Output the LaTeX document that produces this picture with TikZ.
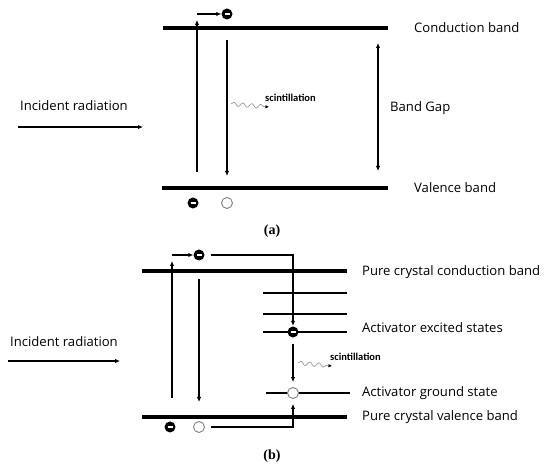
\documentclass[tikz,border=0pt]{standalone}
\usepackage{fontspec}
\setmainfont{Open Sans}
\newfontfamily\capfont{Liberation Serif}
\newfontfamily\notefont{Carlito}
\usetikzlibrary{arrows.meta,positioning,decorations.pathmorphing}

\begin{document}
\begin{tikzpicture}[x=1pt, y=-1pt,
  band/.style={line width=4.2pt},
  level/.style={line width=1.1pt},
  arr/.style={-{Latex[length=5pt,width=4.5pt]}, line width=1.1pt},
  gaparr/.style={{Latex[length=5pt,width=4.5pt]}-{Latex[length=5pt,width=4.5pt]}, line width=1.1pt},
  elec/.style={circle, fill=black, minimum size=11pt, inner sep=0pt,
               path picture={\draw[white, line width=1.3pt] (-2.5pt,0) -- (2.5pt,0);}},
  hole/.style={circle, draw=gray, fill=white, line width=0.9pt, minimum size=11pt, inner sep=0pt},
  lbl/.style={anchor=west, inner sep=0pt, font=\fontsize{13.1}{15}\selectfont},
  glow/.style={gray!80, line width=0.7pt, decorate,
               decoration={snake, amplitude=2pt, segment length=9pt, post length=3pt},
               -{Latex[length=3.5pt,width=3.5pt,black]}},
  note/.style={anchor=west, inner sep=0pt, font=\notefont\bfseries\fontsize{10.5}{12}\selectfont},
  tag/.style={font=\capfont\bfseries\fontsize{14}{16}\selectfont}]
  \useasboundingbox (0,0) rectangle (550,470);

  % (a) simple band picture
  \coordinate (cbL) at (163,28);  \coordinate (cbR) at (388,28);
  \coordinate (vbL) at (162,188); \coordinate (vbR) at (388,188);
  \draw[band] (cbL) -- (cbR);
  \draw[band] (vbL) -- (vbR);
  \node[elec] (ea) at (227,14) {};
  \node[elec] (ha1) at (193,203) {};
  \node[hole] (ha2) at (227,203) {};
  \coordinate (kicka) at (197,14);
  \draw[arr] (kicka) -- (ea);
  \coordinate (upa) at (197,172); \coordinate (upa') at (197,20);
  \draw[arr] (upa) -- (upa');
  \coordinate (dna) at (227,40); \coordinate (dna') at (227,176);
  \draw[arr] (dna) -- (dna');
  \coordinate (gapT) at (378,43); \coordinate (gapB) at (378,171);
  \draw[gaparr] (gapT) -- (gapB);
  \node[lbl] (cba) at (414,28) {Conduction band};
  \node[lbl] (vba) at (414,188) {Valence band};
  \node[lbl] (gap) at (390,108) {Band Gap};
  \node[lbl] (inca) at (20,106) {Incident radiation};
  \coordinate (ina) at (18,127); \coordinate (ina') at (143,127);
  \draw[arr] (ina) -- (ina');
  \coordinate (wa) at (231,104); \coordinate (wa') at (269,107);
  \draw[glow] (wa) -- (wa');
  \node[note] (sca) at (265,98) {scintillation};
  \node[tag] (taga) at (272,231) {(a)};

  % (b) activated crystal
  \coordinate (cbbL) at (142,271); \coordinate (cbbR) at (347,271);
  \coordinate (vbbL) at (142,417); \coordinate (vbbR) at (347,417);
  \draw[band] (cbbL) -- (cbbR);
  \draw[band] (vbbL) -- (vbbR);
  \foreach \y in {293,314,332}
    \draw[level] (263,\y) -- (347,\y);
  \draw[level] (266,393) -- (350,393);
  \node[elec] (eb) at (199,255) {};
  \node[elec] (ex) at (293,332) {};
  \node[hole] (gs) at (293,393) {};
  \node[elec] (hb1) at (170,427) {};
  \node[hole] (hb2) at (199,427) {};
  \coordinate (kickb) at (172,255);
  \draw[arr] (kickb) -- (eb);
  \coordinate (upb) at (172,398); \coordinate (upb') at (172,261);
  \draw[arr] (upb) -- (upb');
  \coordinate (dnb) at (199,279); \coordinate (dnb') at (199,402);
  \draw[arr] (dnb) -- (dnb');
  \draw[arr, shorten >=0.5pt] ([xshift=6pt]eb.east) -| (ex.north);
  \draw[arr, shorten >=5pt] ([yshift=-6pt]ex.south) -- (gs.north);
  \draw[arr, shorten >=5pt] ([xshift=6pt]hb2.east) -| (gs.south);
  \node[lbl] (cbb) at (362,272) {Pure crystal conduction band};
  \node[lbl] (exs) at (362,328) {Activator excited states};
  \node[lbl] (gss) at (362,393) {Activator ground state};
  \node[lbl] (vbb) at (362,417) {Pure crystal valence band};
  \node[lbl] (incb) at (10,342) {Incident radiation};
  \coordinate (inb) at (8,361); \coordinate (inb') at (120,361);
  \draw[arr] (inb) -- (inb');
  \coordinate (wb) at (298,363); \coordinate (wb') at (332,366);
  \draw[glow] (wb) -- (wb');
  \node[note] (scb) at (330,357) {scintillation};
  \node[tag] (tagb) at (272,456) {(b)};
\end{tikzpicture}
\end{document}
